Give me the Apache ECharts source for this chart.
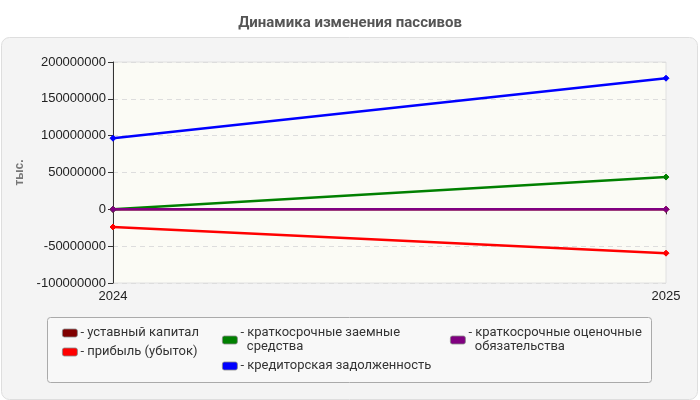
<!DOCTYPE html>
<html><head><meta charset="utf-8">
<script src="https://cdn.jsdelivr.net/npm/echarts@6/dist/echarts.min.js"></script>
<style>html,body{margin:0;padding:0;background:#fff;}#c{width:700px;height:400px;}</style>
</head><body><div id="c"></div>
<script>
const categories = ['2024', '2025'];
const ustavnyKapital = [0, 0];
const pribyl = [-24000000, -59500000];
const kratkZaemnye = [0, 43800000];
const kreditorskaya = [96500000, 178000000];
const ocenochnye = [0, 0];
const yTicks = { min: -100000000, max: 200000000, interval: 50000000 };

const names = ['уставный капитал', 'прибыль (убыток)', 'краткосрочные заемные средства', 'кредиторская задолженность', 'краткосрочные оценочные обязательства'];
const colors = ['#800000', '#ff0000', '#008000', '#0000ff', '#800080'];
const values = [ustavnyKapital, pribyl, kratkZaemnye, kreditorskaya, ocenochnye];
const labelText = {
  'краткосрочные заемные средства': 'краткосрочные заемные\nсредства',
  'краткосрочные оценочные обязательства': 'краткосрочные оценочные\nобязательства'
};

const chart = echarts.init(document.getElementById('c'), null, { renderer: 'canvas' });
const legendBase = {
  orient: 'vertical', top: 321, itemWidth: 15, itemHeight: 8, itemGap: 5,
  icon: 'roundRect', selectedMode: false,
  formatter: n => '- ' + (labelText[n] || n).replace('\n', '\n  '),
  itemStyle: { borderColor: '#888', borderWidth: 0.8 },
  textStyle: { fontFamily: 'Roboto, Arial, sans-serif', fontSize: 13, color: '#333', lineHeight: 14, padding: [0, 0, 0, -2] }
};
chart.setOption({
  animation: false,
  title: { text: 'Динамика изменения пассивов', left: 'center', top: 11,
    textStyle: { fontFamily: 'Roboto, Arial, sans-serif', fontSize: 15, fontWeight: 'bold', color: '#555' } },
  graphic: [
    { type: 'rect', shape: { x: 1.5, y: 37.5, width: 696, height: 362, r: 8 }, style: { fill: '#f4f4f4', stroke: '#dedede', lineWidth: 1 }, z: -10 },
    { type: 'rect', shape: { x: 47.5, y: 317.5, width: 604, height: 65, r: 3 }, style: { fill: '#f8f8f8', stroke: '#aaaaaa', lineWidth: 1 }, z: -9 }
  ],
  legend: [
    Object.assign({}, legendBase, { left: 57, data: [names[0], names[1]] }),
    Object.assign({}, legendBase, { left: 217, data: [names[2], names[3]] }),
    Object.assign({}, legendBase, { left: 445, data: [names[4]] })
  ],
  grid: { left: 113, right: 34, top: 62, bottom: 117, show: true, backgroundColor: '#fbfbf5', borderColor: '#e0e0e0', borderWidth: 1 },
  xAxis: {
    type: 'category', data: categories, boundaryGap: false,
    axisLine: { lineStyle: { color: '#333', width: 1 } },
    axisTick: { show: true, length: 5, lineStyle: { color: '#333' } },
    axisLabel: { color: '#222', fontSize: 13, fontFamily: 'Arial, Liberation Sans, sans-serif', margin: 7 },
    splitLine: { show: false }
  },
  yAxis: {
    type: 'value', min: yTicks.min, max: yTicks.max, interval: yTicks.interval,
    name: 'тыс.', nameLocation: 'middle', nameGap: 86, nameRotate: 90,
    nameTextStyle: { color: '#777', fontSize: 12, fontWeight: 'bold', fontFamily: 'Arial, Liberation Sans, sans-serif' },
    axisLine: { show: true, lineStyle: { color: '#333', width: 1 } },
    axisTick: { show: true, length: 5, lineStyle: { color: '#333' } },
    axisLabel: { color: '#222', fontSize: 13, fontFamily: 'Arial, Liberation Sans, sans-serif', margin: 7, formatter: v => String(v) },
    splitLine: { show: true, lineStyle: { color: '#dddddd', type: [5, 4], width: 1 } }
  },
  series: names.map((n, i) => ({
    name: n, type: 'line', data: values[i],
    symbol: 'diamond', symbolSize: 6, showSymbol: true,
    lineStyle: { color: colors[i], width: 2.5 },
    itemStyle: { color: colors[i], borderColor: colors[i] },
    z: i === 4 ? 5 : 2
  }))
});
</script></body></html>
